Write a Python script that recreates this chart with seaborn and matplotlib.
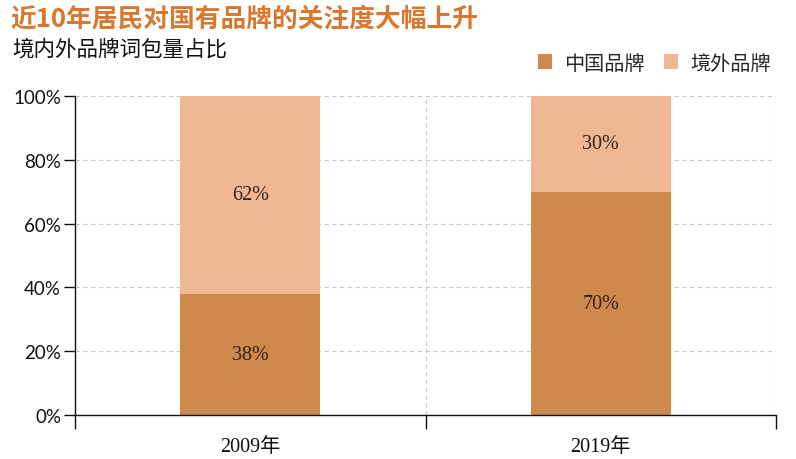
import matplotlib
matplotlib.use("Agg")
import matplotlib.pyplot as plt
import seaborn as sns
import pandas as pd
from matplotlib.patches import Patch

years = ["2009年", "2019年"]
domestic = [38, 70]
foreign = [62, 30]
series_names = ["中国品牌", "境外品牌"]
yticks = [0, 20, 40, 60, 80, 100]

c_dom = "#CD8A4C"
c_for = "#F0B795"

sns.set_theme(style="white")
plt.rcParams['font.family'] = ['Noto Sans CJK SC', 'DejaVu Sans']

fig = plt.figure(figsize=(7.96, 4.60), dpi=100)
ax = fig.add_axes([75/796, 44/460, 701/796, 319/460])

df = pd.DataFrame({"year": years, "dom": domestic, "for": foreign})
df["total"] = df["dom"] + df["for"]

sns.barplot(data=df, x="year", y="total", color=c_for, width=0.4, ax=ax,
            saturation=1, linewidth=0)
sns.barplot(data=df, x="year", y="dom", color=c_dom, width=0.4, ax=ax,
            saturation=1, linewidth=0)

ax.set_xlim(-0.5, 1.5)
ax.set_ylim(0, 100)
ax.set_xlabel("")
ax.set_ylabel("")

serif = ['Liberation Serif', 'Noto Sans CJK SC']
lab_col = "#3A1E14"
for i, (d, f) in enumerate(zip(domestic, foreign)):
    ax.text(i, d / 2, f"{d}%", ha="center", va="center", fontsize=14.5,
            family=serif, color=lab_col)
    ax.text(i, d + f / 2, f"{f}%", ha="center", va="center", fontsize=14.5,
            family=serif, color=lab_col)

ax.set_yticks(yticks)
ax.set_yticklabels([f"{v}%" for v in yticks], family=['Lato', 'DejaVu Sans'],
                   fontsize=13.5, color="#111111")
ax.tick_params(axis="y", which="major", left=True, length=8, width=1,
               color="#111111", pad=2)
ax.set_xticks([0, 1])
ax.set_xticklabels(years, family=serif, fontsize=14.5, color="#111111")
ax.tick_params(axis="x", which="major", bottom=False, pad=10)
ax.set_xticks([-0.5, 0.5, 1.5], minor=True)
ax.tick_params(axis="x", which="minor", bottom=True, length=10, width=1,
               color="#111111", direction="out")

for y in yticks[1:]:
    ax.axhline(y, color="#C8C8C8", lw=0.8, ls=(0, (4, 3)), zorder=0)
for x in [0.5, 1.5]:
    ax.axvline(x, color="#C8C8C8", lw=0.8, ls=(0, (4, 3)), zorder=0)

for s in ["top", "right"]:
    ax.spines[s].set_visible(False)
ax.spines["left"].set_color("#111111")
ax.spines["bottom"].set_color("#111111")
ax.spines["left"].set_linewidth(1)
ax.spines["bottom"].set_linewidth(1)

fig.text(10/796, 1 - 19/460, "近10年居民对国有品牌的关注度大幅上升", fontsize=18.5,
         fontweight="bold", color="#D9772E", va="center", ha="left")
fig.text(12/796, 1 - 50/460, "境内外品牌词包量占比", fontsize=15.5,
         color="#111111", va="center", ha="left")

handles = [Patch(facecolor=c_dom, edgecolor="none"),
           Patch(facecolor=c_for, edgecolor="none")]
fig.legend(handles, series_names, loc="center right",
           bbox_to_anchor=(771/796, 1 - 64/460), ncol=2, frameon=False,
           fontsize=14.5, handlelength=0.7, handleheight=0.7,
           handletextpad=0.6, columnspacing=1.0, borderaxespad=0,
           borderpad=0)

fig.savefig("out.png", dpi=100)
